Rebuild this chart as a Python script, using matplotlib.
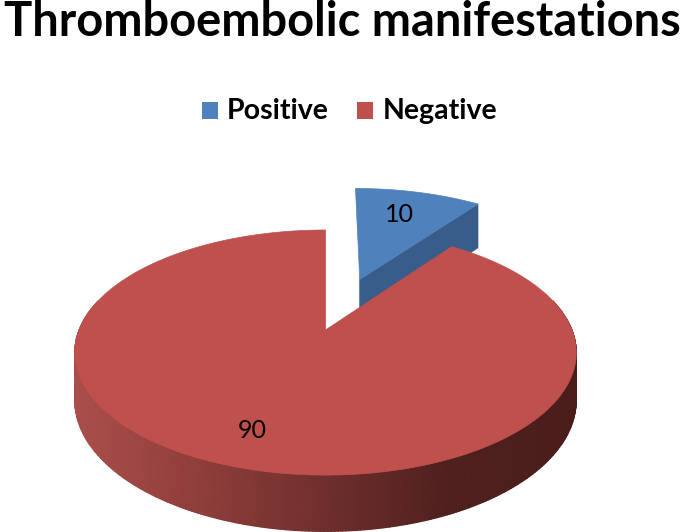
import numpy as np
import matplotlib
matplotlib.use("Agg")
import matplotlib.pyplot as plt
from matplotlib.colors import LinearSegmentedColormap
from matplotlib.patches import Polygon, Rectangle

title = "Thromboembolic manifestations"
labels = ["Positive", "Negative"]
values = [10, 90]
colors = ["#4f81bd", "#bf504d"]

# geometry of the tilted pie, in pixels
CX, CY = 325.5, 330
RX, RY = 246.5, 118.4
PERSP = 0.184
BLUE_PERSP = 0.15
DEPTH = 46
BLUE_DROP = 52
EXPLODE = 0.48

side_red = LinearSegmentedColormap.from_list(
    "side_red", ["#ab4e4b", "#8f3e3b", "#6f2f2d", "#4f201e", "#4a1d1b"]
)


def project(u, v, drop=0.0, persp=PERSP):
    s = 1 / (1 + persp * v)
    return CX + RX * u * s, CY - RY * v * s + drop * s


def wedge(a0, a1, off=(0, 0), n=200):
    # angles run clockwise from 12 o'clock
    t = np.radians(np.linspace(a0, a1, n))
    return off[0] + np.sin(t), off[1] + np.cos(t)


fig = plt.figure(figsize=(6.85, 5.32), dpi=100)
ax = fig.add_axes([0, 0, 1, 1])
ax.set_xlim(0, 685)
ax.set_ylim(532, 0)
ax.axis("off")

fractions = np.array(values) / sum(values)
blue_end = fractions[0] * 360

# blue slice, pulled out along its middle angle
mid = np.radians(blue_end / 2)
off = (EXPLODE * np.sin(mid), EXPLODE * np.cos(mid))
u, v = wedge(0, blue_end, off)

# cut face seen from the front
x0, y0 = project(off[0], off[1], persp=BLUE_PERSP)
x1, y1 = project(u[-1], v[-1], persp=BLUE_PERSP)
x0b, y0b = project(off[0], off[1], BLUE_DROP, BLUE_PERSP)
x1b, y1b = project(u[-1], v[-1], BLUE_DROP, BLUE_PERSP)
ax.add_patch(Polygon([(x0, y0), (x1, y1), (x1b, y1b), (x0b, y0b)],
                     fc="#385d8a", ec="#385d8a", lw=0.5, zorder=2))
xs, ys = project(u, v, persp=BLUE_PERSP)
ax.add_patch(Polygon(np.r_[[(x0, y0)], np.c_[xs, ys]],
                     fc=colors[0], ec=colors[0], lw=0.5, zorder=3))

# red side wall, shaded smoothly from left to right
u, v = wedge(285, 75, n=300)
xt, yt = project(u, v)
xb, yb = project(u, v, DEPTH)
X = np.vstack([xt, xb])
Y = np.vstack([yt, yb])
C = (X - X.min()) / (X.max() - X.min())
ax.pcolormesh(X, Y, C, shading="gouraud", cmap=side_red, zorder=4)
ax.set_xlim(0, 685)
ax.set_ylim(532, 0)

# red top
u, v = wedge(blue_end, 360)
xs, ys = project(u, v)
x0, y0 = project(0, 0)
ax.add_patch(Polygon(np.r_[[(x0, y0)], np.c_[xs, ys]],
                     fc=colors[1], ec=colors[1], lw=0.5, zorder=5))

ax.text(399, 214, str(values[0]), fontsize=18, family="Lato",
        ha="center", va="center", zorder=6)
ax.text(252, 431, str(values[1]), fontsize=18, family="Lato",
        ha="center", va="center", zorder=6)

ax.text(342, 22, title, fontsize=33.8, family="Lato", weight="bold",
        ha="center", va="center", color="black")

# legend
for lx, tx, lab, col in zip([202, 357], [227, 383], labels, colors):
    ax.add_patch(Rectangle((lx, 102), 16.5, 17, fc=col, ec="none"))
    ax.text(tx, 111, lab, fontsize=20.5, family="Lato", weight="bold",
            ha="left", va="center", color="black")

fig.savefig("out.png", dpi=100)
